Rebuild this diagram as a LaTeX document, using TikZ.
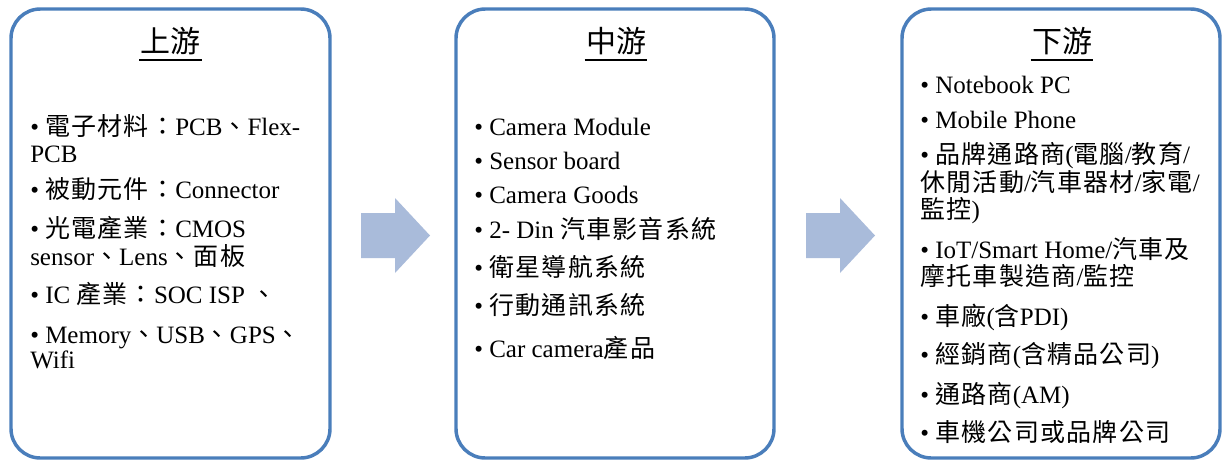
\documentclass[tikz,border=0pt]{standalone}
\usepackage{fontspec}
\setmainfont{Liberation Serif}
\newfontfamily\cjk[LetterSpace=5]{Noto Sans CJK TC}
\newfontfamily\cjktitle{Noto Sans CJK TC}
\newcommand\zh[1]{{\cjk #1}}
\usetikzlibrary{calc}
\definecolor{boxblue}{HTML}{4A7EBB}
\definecolor{arrowfill}{HTML}{A9BBDA}
\tikzset{
  panel/.style={draw=boxblue, line width=2.6pt, rounded corners=22pt, fill=white, inner sep=0pt},
  item/.style={anchor=base west, inner sep=0pt, font=\fontsize{18.75}{22}\selectfont},
  title/.style={anchor=base, inner sep=0pt, font=\fontsize{22.5}{26}\selectfont\cjktitle},
  uline/.style={line width=1.2pt},
  blockarrow/.style={fill=arrowfill, draw=none}
}
\begin{document}
\begin{tikzpicture}[x=0.75pt,y=-0.75pt]
\useasboundingbox (0,0) rectangle (1224,461);
% panels
\node[panel, minimum width=239.25pt, minimum height=336.75pt] (up) at (170.5,233.5) {};
\node[panel, minimum width=238.5pt, minimum height=336.75pt] (mid) at (615,233.5) {};
\node[panel, minimum width=238.5pt, minimum height=336.75pt] (down) at (1061,233.5) {};
% block arrows
\fill[blockarrow] (361,213) -- (395,213) -- (395,198) -- (430,235.5) -- (395,273) -- (395,258) -- (361,258) -- cycle;
\fill[blockarrow] (806,213) -- (840,213) -- (840,198) -- (875,235.5) -- (840,273) -- (840,258) -- (806,258) -- cycle;
% titles
\node[title] (t1) at (170.5,52) {上游};
\node[title] (t2) at (616,52) {中游};
\node[title] (t3) at (1062,52) {下游};
\foreach \t in {t1,t2,t3}{
  \draw[uline] ($(\t.base west)+(-1,8)$) -- ($(\t.base east)+(1,8)$);
}
% upstream items
\node[item] (u1) at (30,135) {• \zh{電子材料：}PCB\zh{、}Flex-};
\node[item] (u2) at (30,162) {PCB};
\node[item] (u3) at (30,198) {• \zh{被動元件：}Connector};
\node[item] (u4) at (30,237) {• \zh{光電產業：}CMOS};
\node[item] (u5) at (30,265) {sensor\zh{、}Lens\zh{、面板}};
\node[item] (u6) at (30,303) {• IC \zh{產業：}SOC ISP \zh{、}};
\node[item] (u7) at (30,343) {• Memory\zh{、}USB\zh{、}GPS\zh{、}};
\node[item] (u8) at (30,368) {Wifi};
% midstream items
\node[item] (m1) at (474,135) {• Camera Module};
\node[item] (m2) at (474,169) {• Sensor board};
\node[item] (m3) at (474,203) {• Camera Goods};
\node[item] (m4) at (474,238) {• 2- Din \zh{汽車影音系統}};
\node[item] (m5) at (474,276) {• \zh{衛星導航系統}};
\node[item] (m6) at (474,314) {• \zh{行動通訊系統}};
\node[item] (m7) at (474,357) {• Car camera\zh{產品}};
% downstream items
\node[item] (d1) at (920,93) {• Notebook PC};
\node[item] (d2) at (920,128) {• Mobile Phone};
\node[item] (d3) at (920,163) {• \zh{品牌通路商}(\zh{電腦}/\zh{教育}/};
\node[item] (d4) at (920,191) {\zh{休閒活動}/\zh{汽車器材}/\zh{家電}/};
\node[item] (d5) at (920,218) {\zh{監控})};
\node[item] (d6) at (920,258) {• IoT/Smart Home/\zh{汽車及}};
\node[item] (d7) at (920,285) {\zh{摩托車製造商}/\zh{監控}};
\node[item] (d8) at (920,325) {• \zh{車廠}(\zh{含}PDI)};
\node[item] (d9) at (920,363) {• \zh{經銷商}(\zh{含精品公司})};
\node[item] (d10) at (920,403) {• \zh{通路商}(AM)};
\node[item] (d11) at (920,441) {• \zh{車機公司或品牌公司}};
\end{tikzpicture}
\end{document}
